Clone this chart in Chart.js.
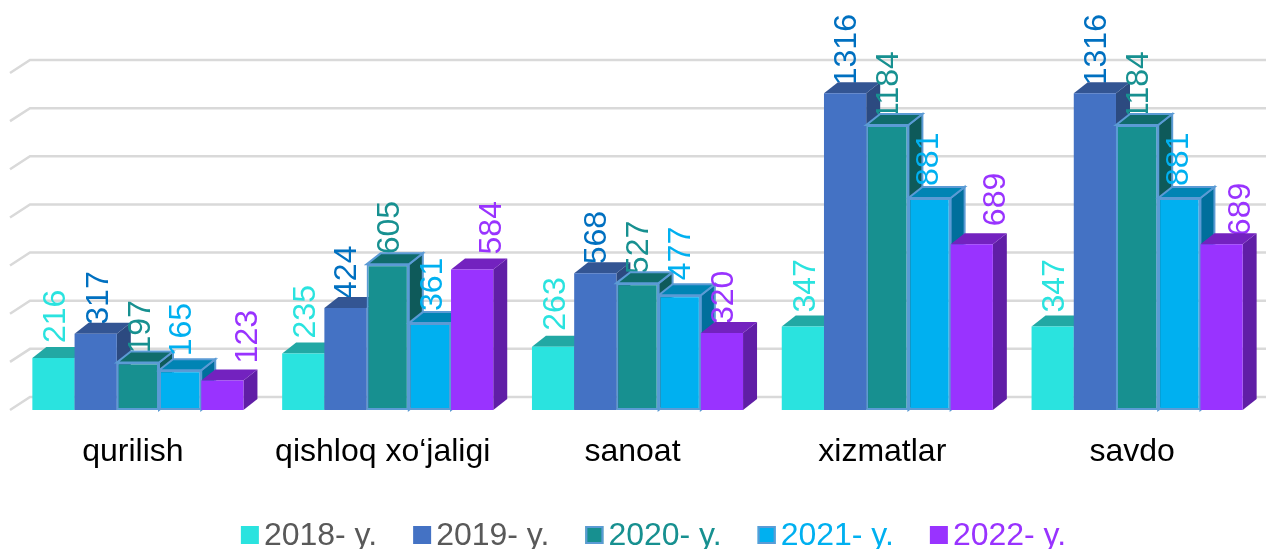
<!DOCTYPE html>
<html>
<head>
<meta charset="utf-8">
<title>Chart</title>
<script src="https://cdn.jsdelivr.net/npm/chart.js@4/dist/chart.umd.min.js"></script>
<style>
  html, body { margin: 0; padding: 0; background: #fff; }
  #wrap { width: 1266px; height: 549px; }
</style>
</head>
<body>
<div id="wrap"><canvas id="chart"></canvas></div>
<script>
const categories = ['qurilish', 'qishloq xo‘jaligi', 'sanoat', 'xizmatlar', 'savdo'];
const seriesNames = ['2018- y.', '2019- y.', '2020- y.', '2021- y.', '2022- y.'];
const y2018 = [216, 235, 263, 347, 347];
const y2019 = [317, 424, 568, 1316, 1316];
const y2020 = [197, 605, 527, 1184, 1184];
const y2021 = [165, 361, 477, 881, 881];
const y2022 = [123, 584, 320, 689, 689];
const seriesValues = [y2018, y2019, y2020, y2021, y2022];

const fillColors = ['#2ae3df', '#4472c4', '#179090', '#00b0f0', '#9933ff'];
const topColors = ['#22a8a4', '#335593', '#106c6c', '#0084b4', '#7322bf'];
const sideColors = ['#1c918e', '#2c4a80', '#0e5a5a', '#006f9c', '#601ea6'];
const labelColors = ['#2ae3df', '#0070c0', '#179090', '#00b0f0', '#9933ff'];
const legendColors = ['#595959', '#595959', '#179090', '#00b0f0', '#9933ff'];
const borderColors = [null, null, '#5b9bd5', '#5b9bd5', null];

// the value labels were hand placed in the original, so each one has its own nudge
const labelGaps = [
  [15, 15, 16, 14, 14],
  [9, 9, 9, 8, 8],
  [9, 10, 9, 5, 5],
  [14, 12, 15, 12, 12],
  [17, 15, 9, 18, 8]
];
const labelShifts = [
  [3, 3, 3, 3, 3],
  [3, 2, 2, 2, 2],
  [3, 2, 2, 2, 2],
  [2, 3, 1, 0, 0],
  [26, 20, 2, 24, 20]
];

const FONT = '"Liberation Sans", Arial, sans-serif';
const depthX = 14;
const depthY = 11;
const wallX = 20;
const wallY = 13;

function drawWall(chart) {
  const ctx = chart.ctx;
  const yScale = chart.scales.y;
  const area = chart.chartArea;
  ctx.save();
  ctx.strokeStyle = '#d9d9d9';
  ctx.lineWidth = 2.5;
  yScale.ticks.forEach(tick => {
    const y = yScale.getPixelForValue(tick.value);
    ctx.beginPath();
    ctx.moveTo(area.left - 3, y);
    ctx.lineTo(area.left - 3 + wallX, y - wallY);
    ctx.lineTo(chart.width, y - wallY);
    ctx.stroke();
  });
  ctx.restore();
}

function drawFaces(ctx, bar, i) {
  const half = bar.width / 2;
  const left = bar.x - half;
  const right = bar.x + half;
  const top = bar.y;
  const bottom = bar.base;
  ctx.lineWidth = 2;
  ctx.strokeStyle = borderColors[i] || 'transparent';

  ctx.fillStyle = sideColors[i];
  ctx.beginPath();
  ctx.moveTo(right, top);
  ctx.lineTo(right + depthX, top - depthY);
  ctx.lineTo(right + depthX, bottom - depthY);
  ctx.lineTo(right, bottom);
  ctx.closePath();
  ctx.fill();
  if (borderColors[i]) ctx.stroke();

  ctx.fillStyle = topColors[i];
  ctx.beginPath();
  ctx.moveTo(left, top);
  ctx.lineTo(left + depthX, top - depthY);
  ctx.lineTo(right + depthX, top - depthY);
  ctx.lineTo(right, top);
  ctx.closePath();
  ctx.fill();
  if (borderColors[i]) ctx.stroke();
}

function drawLabel(ctx, bar, i, j) {
  ctx.save();
  ctx.translate(bar.x + labelShifts[i][j], bar.y - labelGaps[i][j]);
  ctx.rotate(-Math.PI / 2);
  ctx.font = '32px ' + FONT;
  ctx.fillStyle = labelColors[i];
  ctx.textAlign = 'left';
  ctx.textBaseline = 'middle';
  ctx.fillText(String(seriesValues[i][j]), 0, 0);
  ctx.restore();
}

// Chart.js paints the first dataset last, here it has to go the other way round
// and each label sits behind its own bar
const bars3d = {
  id: 'bars3d',
  afterLayout(chart) {
    // the legend sits lower and further right than a centred one
    const legend = chart.legend;
    legend.left += 16;
    legend.right += 16;
    legend.top += 13;
    legend.bottom += 13;
    legend.adjustHitBoxes();
  },
  beforeDatasetsDraw(chart) {
    const ctx = chart.ctx;
    drawWall(chart);
    seriesValues.forEach((values, i) => {
      const meta = chart.getDatasetMeta(i);
      meta.data.forEach((bar, j) => drawLabel(ctx, bar, i, j));
      meta.data.forEach(bar => drawFaces(ctx, bar, i));
      meta.data.forEach(bar => bar.draw(ctx));
    });
    return false;
  },
  afterDraw(chart) {
    // legend swatches sit closer to the text than the plugin allows
    const ctx = chart.ctx;
    chart.legend.legendHitBoxes.forEach((box, i) => {
      const top = chart.legend.top + 42;
      ctx.fillStyle = fillColors[i];
      ctx.fillRect(box.left, top, 18, 18);
      if (borderColors[i]) {
        ctx.strokeStyle = borderColors[i];
        ctx.lineWidth = 2;
        ctx.strokeRect(box.left + 1, top + 1, 16, 16);
      }
    });
  }
};

new Chart(document.getElementById('chart'), {
  type: 'bar',
  data: {
    labels: categories,
    datasets: seriesNames.map((name, i) => ({
      label: name,
      data: seriesValues[i],
      backgroundColor: fillColors[i],
      borderColor: borderColors[i] || fillColors[i],
      borderWidth: borderColors[i] ? 2 : 0,
      borderSkipped: false
    }))
  },
  options: {
    responsive: true,
    maintainAspectRatio: false,
    animation: false,
    layout: { padding: { left: 13, right: 4, top: 73, bottom: 0 } },
    datasets: { bar: { categoryPercentage: 0.845, barPercentage: 1 } },
    scales: {
      x: {
        grid: { display: false },
        border: { display: false },
        ticks: {
          color: '#000',
          padding: 15,
          labelOffset: -5,
          maxRotation: 0,
          font: { size: 32, family: FONT }
        },
        afterFit: scale => { scale.height = 61; }
      },
      y: {
        display: true,
        min: 0,
        max: 1400,
        grid: { display: false },
        border: { display: false },
        ticks: { display: false, stepSize: 200 },
        afterFit: scale => { scale.width = 0; }
      }
    },
    plugins: {
      tooltip: { enabled: false },
      legend: {
        position: 'bottom',
        labels: {
          boxWidth: 7,
          boxHeight: 7,
          padding: 36,
          font: { size: 32, family: FONT },
          generateLabels: () => seriesNames.map((name, i) => ({
            text: name,
            fillStyle: 'transparent',
            strokeStyle: 'transparent',
            lineWidth: 0,
            fontColor: legendColors[i],
            datasetIndex: i
          }))
        }
      }
    }
  },
  plugins: [bars3d]
});
</script>
</body>
</html>
